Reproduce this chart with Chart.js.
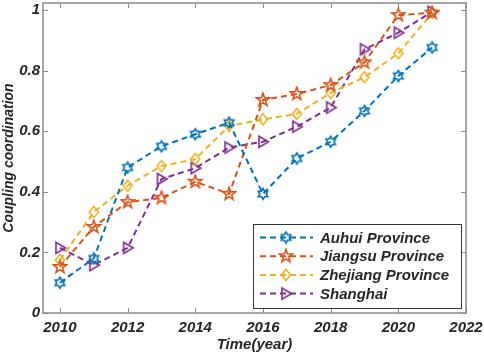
<!DOCTYPE html>
<html>
<head>
<meta charset="utf-8">
<script src="https://cdn.jsdelivr.net/npm/chart.js@4.4.1/dist/chart.umd.min.js"></script>
<style>
  body { margin: 0; background: #fff; }
</style>
</head>
<body>
<canvas id="canvas" width="484" height="356"></canvas>
<script>
// data
const years = [2010, 2011, 2012, 2013, 2014, 2015, 2016, 2017, 2018, 2019, 2020, 2021];
const auhui = [0.10, 0.18, 0.48, 0.55, 0.59, 0.628, 0.393, 0.51, 0.565, 0.667, 0.782, 0.876];
const jiangsu = [0.152, 0.284, 0.366, 0.38, 0.433, 0.393, 0.703, 0.723, 0.752, 0.827, 0.983, 0.991];
const zhejiang = [0.175, 0.333, 0.42, 0.485, 0.508, 0.617, 0.639, 0.657, 0.726, 0.778, 0.857, 0.99];
const shanghai = [0.215, 0.158, 0.215, 0.442, 0.478, 0.546, 0.565, 0.615, 0.678, 0.87, 0.925, 0.994];

const seriesNames = ['Auhui Province', 'Jiangsu Province', 'Zhejiang Province', 'Shanghai'];

const xTicks = [2010, 2012, 2014, 2016, 2018, 2020, 2022];
const yTicks = [0, 0.2, 0.4, 0.6, 0.8, 1];
const yTickLabels = ['0', '0.2', '0.4', '0.6', '0.8', '1'];

const colors = ['#0072BD', '#D95319', '#EDB120', '#7E2F8E'];
const axisColor = '#8a8a8a';
const textColor = '#262626';
const fontFamily = "Arial, 'Liberation Sans', sans-serif";

//makes a little canvas with a hollow marker on it
const makeMarker = (kind, color) => {
    const c = document.createElement('canvas');
    c.width = 16;
    c.height = 16;
    const g = c.getContext('2d');
    g.strokeStyle = color;
    g.lineWidth = 1.6;
    g.lineJoin = 'miter';
    g.beginPath();
    const cx = 8, cy = 8;
    if (kind === 'hexagram' || kind === 'pentagram') {
        const n = kind === 'hexagram' ? 6 : 5;
        const ro = kind === 'hexagram' ? 5.5 : 6.8;
        const ri = kind === 'hexagram' ? 3.2 : 2.7;
        for (let i = 0; i < n * 2; i++) {
            const r = i % 2 === 0 ? ro : ri;
            const ang = -Math.PI / 2 + i * Math.PI / n;
            const px = cx + r * Math.cos(ang);
            const py = cy + r * Math.sin(ang);
            if (i === 0) g.moveTo(px, py); else g.lineTo(px, py);
        }
    }
    else if (kind === 'diamond') {
        g.moveTo(cx, cy - 5.5);
        g.lineTo(cx + 4.5, cy);
        g.lineTo(cx, cy + 5.5);
        g.lineTo(cx - 4.5, cy);
    }
    else {
        g.moveTo(cx + 5.5, cy);
        g.lineTo(cx - 4, cy - 5.5);
        g.lineTo(cx - 4, cy + 5.5);
    }
    g.closePath();
    g.stroke();
    return c;
};

const markers = [
    makeMarker('hexagram', colors[0]),
    makeMarker('pentagram', colors[1]),
    makeMarker('diamond', colors[2]),
    makeMarker('triangle', colors[3])
];

const allValues = [auhui, jiangsu, zhejiang, shanghai];

const datasets = allValues.map((vals, i) => ({
    label: seriesNames[i],
    data: years.map((yr, j) => ({ x: yr, y: vals[j] })),
    borderColor: colors[i],
    backgroundColor: colors[i],
    borderWidth: 2,
    borderDash: [6, 4],
    pointStyle: markers[i],
    pointRadius: 6,
    tension: 0,
    fill: false
}));

//frame round the plot and inward ticks on all four sides
const boxPlugin = {
    id: 'box',
    beforeDatasetsDraw(chart) {
        const ctx = chart.ctx;
        const a = chart.chartArea;
        const xs = chart.scales.x;
        const ys = chart.scales.y;
        ctx.save();
        ctx.strokeStyle = axisColor;
        ctx.lineWidth = 1.5;
        ctx.strokeRect(a.left, a.top, a.right - a.left, a.bottom - a.top);
        ctx.lineWidth = 1;
        ctx.beginPath();
        xTicks.forEach(v => {
            const px = Math.round(xs.getPixelForValue(v)) + 0.5;
            ctx.moveTo(px, a.bottom);
            ctx.lineTo(px, a.bottom - 5);
            ctx.moveTo(px, a.top);
            ctx.lineTo(px, a.top + 5);
        });
        yTicks.forEach(v => {
            const py = Math.round(ys.getPixelForValue(v)) + 0.5;
            ctx.moveTo(a.left, py);
            ctx.lineTo(a.left + 5, py);
            ctx.moveTo(a.right, py);
            ctx.lineTo(a.right - 5, py);
        });
        ctx.stroke();
        ctx.restore();
    }
};

//legend box inside the lower right of the plot
const legendPlugin = {
    id: 'insideLegend',
    afterDatasetsDraw(chart) {
        const ctx = chart.ctx;
        const a = chart.chartArea;
        const bx = a.right - 213;
        const by = a.bottom - 89;
        const bw = 208;
        const bh = 84;
        ctx.save();
        ctx.fillStyle = '#fff';
        ctx.fillRect(bx, by, bw, bh);
        ctx.strokeStyle = '#333';
        ctx.lineWidth = 1;
        ctx.strokeRect(bx + 0.5, by + 0.5, bw, bh);

        ctx.font = 'italic bold 15px ' + fontFamily;
        ctx.textBaseline = 'middle';
        chart.data.datasets.forEach((ds, i) => {
            const y = by + 13.5 + i * 18.7;
            ctx.strokeStyle = ds.borderColor;
            ctx.lineWidth = 2;
            ctx.setLineDash([6, 4]);
            ctx.beginPath();
            ctx.moveTo(bx + 7, y);
            ctx.lineTo(bx + 60, y);
            ctx.stroke();
            ctx.setLineDash([]);
            const m = ds.pointStyle;
            ctx.drawImage(m, bx + 33 - m.width / 2, y - m.height / 2);
            ctx.fillStyle = textColor;
            ctx.fillText(ds.label, bx + 67, y + 1);
        });
        ctx.restore();
    }
};

const tickFont = { family: fontFamily, size: 15, style: 'italic', weight: 'bold' };
//small lineHeight so the top label does not push the plot down
const yTickFont = { family: fontFamily, size: 15, style: 'italic', weight: 'bold', lineHeight: 0.4 };

const context = document.getElementById('canvas').getContext('2d');
const chart = new Chart(context, {
    type: 'line',
    data: { datasets: datasets },
    options: {
        responsive: false,
        animation: false,
        devicePixelRatio: 1,
        layout: { autoPadding: false, padding: { top: 3, right: 18, left: 0, bottom: 0 } },
        plugins: {
            legend: { display: false },
            tooltip: { enabled: false }
        },
        scales: {
            x: {
                type: 'linear',
                min: 2009.5,
                max: 2022,
                afterBuildTicks: scale => { scale.ticks = xTicks.map(v => ({ value: v })); },
                afterFit: scale => {
                    scale.height = 43;
                    scale.paddingLeft = 0;
                    scale.paddingRight = 0;
                },
                grid: { display: false, drawTicks: false },
                border: { display: false },
                ticks: {
                    padding: 6,
                    color: textColor,
                    font: tickFont,
                    callback: v => String(v),
                    maxRotation: 0
                },
                title: {
                    display: true,
                    text: 'Time(year)',
                    color: textColor,
                    padding: { top: 0, bottom: 2 },
                    font: { family: fontFamily, size: 15, style: 'italic', weight: 'bold' }
                }
            },
            y: {
                min: 0,
                max: 1.023,
                afterBuildTicks: scale => { scale.ticks = yTicks.map(v => ({ value: v })); },
                afterFit: scale => {
                    scale.width = 43;
                    scale.paddingTop = 0;
                    scale.paddingBottom = 0;
                },
                grid: { display: false, drawTicks: false },
                border: { display: false },
                ticks: {
                    padding: 3,
                    color: textColor,
                    font: yTickFont,
                    callback: (v, idx) => yTickLabels[idx]
                },
                title: {
                    display: true,
                    text: 'Coupling coordination',
                    color: textColor,
                    padding: { top: 1, bottom: 0 },
                    font: { family: fontFamily, size: 14, style: 'italic', weight: 'bold' }
                }
            }
        }
    },
    plugins: [boxPlugin, legendPlugin]
});
</script>
</body>
</html>
